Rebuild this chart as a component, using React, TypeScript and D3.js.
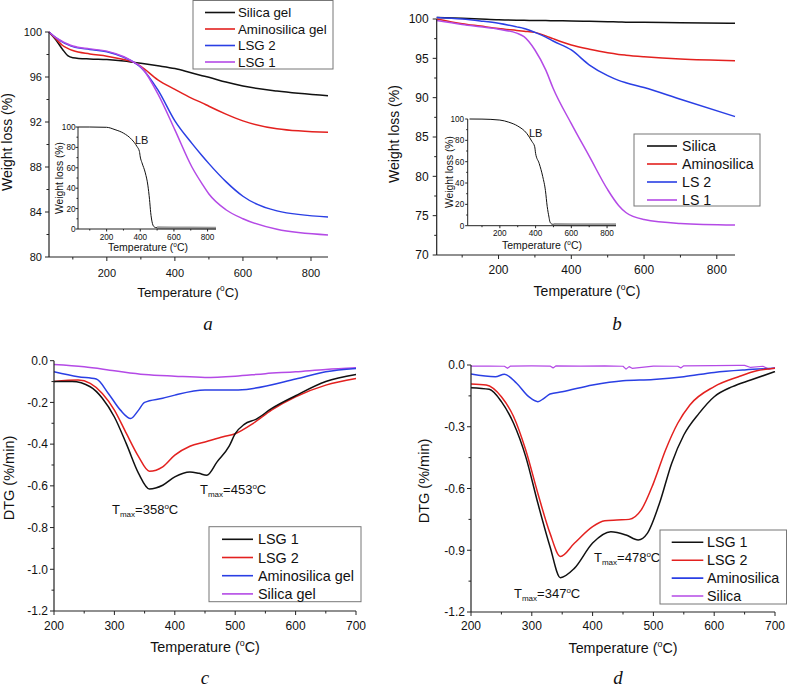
import React from 'react';
import * as d3 from 'd3';

const FONT = '"Liberation Sans", Arial, Helvetica, sans-serif';
const C_BLACK = '#111111';
const C_RED = '#e3211f';
const C_BLUE = '#2a3fe4';
const C_PURPLE = '#b44ae6';
const C_AXIS = '#222222';

// ---------- Panel a (TGA, gels) ----------
const tempA = [30, 50, 70, 85, 100, 150, 200, 250, 280, 300, 350, 400, 450, 480, 500, 550, 600, 700, 850];
const silicaGelA = [100, 99.3, 98.45, 97.9, 97.72, 97.6, 97.55, 97.42, 97.3, 97.22, 97.0, 96.75, 96.35, 96.12, 95.97, 95.55, 95.2, 94.75, 94.34];
const aminoGelA = [100, 99.4, 98.8, 98.55, 98.35, 98.05, 97.85, 97.55, 97.3, 96.95, 95.75, 94.9, 94.1, 93.7, 93.4, 92.7, 92.1, 91.4, 91.08];
const lsg2A = [100, 99.5, 99.1, 98.88, 98.7, 98.45, 98.25, 97.75, 97.3, 96.85, 94.85, 92.1, 90.1, 89.0, 88.3, 86.7, 85.4, 84.1, 83.56];
const lsg1A = [100, 99.5, 99.15, 98.93, 98.75, 98.5, 98.3, 97.8, 97.3, 96.9, 94.5, 91.3, 88.0, 86.5, 85.6, 84.2, 83.4, 82.46, 81.96];

const insetAT = [30, 100, 200, 250, 300, 350, 380, 395, 400, 410, 430, 445, 455, 462, 470, 480, 490, 500];
const insetAV = [100, 100, 99.7, 97.4, 94, 87.6, 81, 76, 70.6, 65, 55, 43, 29, 16, 7, 2.5, 1.5, 1.2];
const tailT = [500, 600, 700, 850];
const tailV = [1.2, 1.0, 0.9, 0.8];

// ---------- Panel b (TGA, silicas) ----------
const tempB = [30, 100, 150, 200, 250, 270, 300, 330, 350, 400, 450, 500, 530, 550, 600, 700, 850];
const silicaB = [100.2, 100.1, 100.0, 99.9, 99.85, 99.85, 99.8, 99.8, 99.78, 99.75, 99.7, 99.65, 99.62, 99.6, 99.58, 99.52, 99.45];
const aminoB = [100, 99.4, 99.1, 98.8, 98.55, 98.45, 98.3, 97.85, 97.5, 96.7, 96.15, 95.7, 95.5, 95.4, 95.2, 94.9, 94.7];
const ls2B = [100.2, 100.0, 99.75, 99.45, 99.0, 98.8, 98.3, 97.7, 97.2, 96.06, 94.15, 92.8, 92.2, 91.9, 91.3, 89.8, 87.6];
const ls1B = [99.8, 99.3, 99.0, 98.7, 98.2, 97.75, 96.06, 93.5, 91.2, 86.7, 82.5, 78.3, 76.3, 75.4, 74.5, 74.0, 73.8];

const insetBT = [30, 100, 200, 250, 300, 350, 380, 395, 400, 420, 440, 455, 465, 475, 480, 490, 500];
const insetBV = [100, 99.9, 99.0, 97, 93.4, 86.6, 78.8, 74, 67.8, 58.4, 46, 33, 18, 8, 3.75, 1.6, 1.2];

// ---------- Panel c (DTG, gels) ----------
const lsg1CT = [200, 230, 260, 280, 300, 320, 340, 358, 380, 400, 425, 440, 453, 470, 490, 500, 515, 535, 560, 600, 650, 700];
const lsg1CV = [-0.10, -0.10, -0.125, -0.18, -0.27, -0.40, -0.54, -0.615, -0.597, -0.557, -0.533, -0.54, -0.549, -0.485, -0.41, -0.35, -0.305, -0.28, -0.23, -0.168, -0.10, -0.066];
const lsg2CT = [200, 240, 260, 280, 300, 320, 340, 358, 380, 400, 425, 450, 480, 500, 530, 560, 600, 650, 700];
const lsg2CV = [-0.10, -0.093, -0.109, -0.157, -0.237, -0.35, -0.46, -0.53, -0.509, -0.453, -0.41, -0.39, -0.365, -0.35, -0.30, -0.237, -0.173, -0.117, -0.085];
const aminoCT = [200, 240, 270, 290, 310, 327, 340, 350, 380, 400, 450, 500, 530, 600, 650, 700];
const aminoCV = [-0.053, -0.077, -0.088, -0.157, -0.237, -0.277, -0.237, -0.2, -0.18, -0.165, -0.141, -0.141, -0.133, -0.088, -0.053, -0.037];
const silicaCT = [200, 250, 300, 350, 400, 450, 500, 550, 600, 650, 700];
const silicaCV = [-0.018, -0.029, -0.048, -0.066, -0.074, -0.08, -0.074, -0.062, -0.053, -0.042, -0.034];

// ---------- Panel d (DTG, silicas) ----------
const lsg1DT = [200, 230, 250, 270, 290, 310, 330, 347, 370, 400, 430, 455, 475, 490, 510, 530, 550, 575, 600, 630, 660, 700];
const lsg1DV = [-0.11, -0.118, -0.178, -0.283, -0.445, -0.672, -0.883, -1.033, -0.988, -0.865, -0.81, -0.826, -0.85, -0.818, -0.672, -0.478, -0.34, -0.235, -0.154, -0.105, -0.073, -0.032];
const lsg2DT = [200, 225, 250, 270, 290, 310, 330, 347, 370, 400, 420, 440, 460, 480, 500, 520, 540, 560, 600, 640, 670, 700];
const lsg2DV = [-0.092, -0.097, -0.154, -0.25, -0.413, -0.624, -0.818, -0.93, -0.866, -0.785, -0.757, -0.753, -0.75, -0.704, -0.575, -0.413, -0.283, -0.194, -0.105, -0.057, -0.028, -0.016];
const aminoDT = [200, 240, 255, 275, 295, 310, 320, 330, 350, 400, 450, 500, 550, 600, 650, 700];
const aminoDV = [-0.044, -0.057, -0.045, -0.089, -0.154, -0.178, -0.162, -0.141, -0.13, -0.097, -0.076, -0.07, -0.057, -0.036, -0.024, -0.016];
const silicaDT = [200, 230, 255, 260, 265, 300, 330, 335, 340, 380, 420, 450, 455, 460, 465, 500, 540, 545, 550, 600, 640, 650, 660, 680, 690, 700];
const silicaDV = [-0.005, -0.005, -0.006, -0.016, -0.005, -0.004, -0.005, -0.014, -0.004, -0.005, -0.004, -0.006, -0.02, -0.008, -0.016, -0.005, -0.006, -0.014, -0.004, -0.003, -0.002, -0.002, -0.012, -0.006, -0.02, -0.012];

// ---------- ticks ----------
const ticksAY = [80, 84, 88, 92, 96, 100];
const ticksAYMinor = [82, 86, 90, 94, 98];
const ticksTGX = [200, 400, 600, 800];
const ticksTGXMinor = [100, 300, 500, 700];
const ticksBY = [70, 75, 80, 85, 90, 95, 100];
const ticksBYMinor = [72.5, 77.5, 82.5, 87.5, 92.5, 97.5];
const ticksInsetY = [0, 20, 40, 60, 80, 100];
const ticksInsetYMinor = [10, 30, 50, 70, 90];
const ticksDTGX = [200, 300, 400, 500, 600, 700];
const ticksDTGXMinor = [250, 350, 450, 550, 650];
const ticksCY = [-1.2, -1.0, -0.8, -0.6, -0.4, -0.2, 0.0];
const ticksCYMinor = [-1.1, -0.9, -0.7, -0.5, -0.3, -0.1];
const ticksDY = [-1.2, -0.9, -0.6, -0.3, 0.0];
const ticksDYMinor = [-1.05, -0.75, -0.45, -0.15];

type Series = { t: number[]; v: number[]; color: string; width?: number; linear?: boolean };

type PlotProps = {
  xDomain: [number, number];
  xRange: [number, number];
  yDomain: [number, number];
  yRange: [number, number];
  xTicks: number[];
  xMinor: number[];
  yTicks: number[];
  yMinor: number[];
  yFmt: (v: number) => string;
  tickFs: number;
  xTickDy: number;
  yTickGap: number;
  series: Series[];
  major?: number;
  minor?: number;
  axisW?: number;
};

function Plot(p: PlotProps) {
  const x = d3.scaleLinear().domain(p.xDomain).range(p.xRange);
  const y = d3.scaleLinear().domain(p.yDomain).range(p.yRange);
  const major = p.major ?? 4;
  const minor = p.minor ?? 2.5;
  const x0 = p.xRange[0];
  const y0 = p.yRange[0];
  return (
    <g>
      {p.series.map((s, i) => {
        const pts = s.t.map((t, j) => [t, s.v[j]] as [number, number]);
        const line = d3
          .line<[number, number]>()
          .x((d) => x(d[0]))
          .y((d) => y(d[1]))
          .curve(s.linear ? d3.curveLinear : d3.curveMonotoneX);
        return (
          <path key={i} d={line(pts) || ''} fill="none" stroke={s.color} strokeWidth={s.width ?? 1.5} strokeLinejoin="round" />
        );
      })}
      <line x1={x0} x2={p.xRange[1]} y1={y0} y2={y0} stroke={C_AXIS} strokeWidth={p.axisW ?? 1.2} />
      <line x1={x0} x2={x0} y1={p.yRange[0]} y2={p.yRange[1]} stroke={C_AXIS} strokeWidth={p.axisW ?? 1.2} />
      {p.xTicks.map((t) => (
        <g key={'xt' + t}>
          <line x1={x(t)} x2={x(t)} y1={y0} y2={y0 + major} stroke={C_AXIS} strokeWidth={1} />
          <text x={x(t)} y={y0 + p.xTickDy} fontSize={p.tickFs} textAnchor="middle" fill="#111">
            {t}
          </text>
        </g>
      ))}
      {p.xMinor.map((t) => (
        <line key={'xm' + t} x1={x(t)} x2={x(t)} y1={y0} y2={y0 + minor} stroke={C_AXIS} strokeWidth={1} />
      ))}
      {p.yTicks.map((t) => (
        <g key={'yt' + t}>
          <line x1={x0 - major} x2={x0} y1={y(t)} y2={y(t)} stroke={C_AXIS} strokeWidth={1} />
          <text x={x0 - p.yTickGap} y={y(t) + p.tickFs * 0.36} fontSize={p.tickFs} textAnchor="end" fill="#111">
            {p.yFmt(t)}
          </text>
        </g>
      ))}
      {p.yMinor.map((t) => (
        <line key={'ym' + t} x1={x0 - minor} x2={x0} y1={y(t)} y2={y(t)} stroke={C_AXIS} strokeWidth={1} />
      ))}
    </g>
  );
}

function TempTitle({ x, y, fs }: { x: number; y: number; fs: number }) {
  return (
    <text x={x} y={y} fontSize={fs} textAnchor="middle" fill="#111">
      Temperature (
      <tspan dy={-fs * 0.42} fontSize={fs * 0.62}>o</tspan>
      <tspan dy={fs * 0.42}>C)</tspan>
    </text>
  );
}

function YTitle({ x, y, fs, text }: { x: number; y: number; fs: number; text: string }) {
  return (
    <text transform={`translate(${x},${y}) rotate(-90)`} fontSize={fs} textAnchor="middle" fill="#111">
      {text}
    </text>
  );
}

function Tmax({ x, y, val }: { x: number; y: number; val: string }) {
  return (
    <text x={x} y={y} fontSize={13} fill="#111">
      T<tspan dy={3} fontSize={8}>max</tspan>
      <tspan dy={-3}>={val}</tspan>
      <tspan dy={-5} fontSize={8}>o</tspan>
      <tspan dy={5}>C</tspan>
    </text>
  );
}

type LegendProps = {
  x: number; y: number; w: number; h: number;
  names: string[]; colors: string[];
  row0: number; step: number; lx1: number; lx2: number; tx: number; fs: number;
};

function Legend(l: LegendProps) {
  return (
    <g>
      <rect x={l.x} y={l.y} width={l.w} height={l.h} fill="#fff" stroke="#777" strokeWidth={1} />
      {l.names.map((n, i) => (
        <g key={n}>
          <line x1={l.lx1} x2={l.lx2} y1={l.row0 + i * l.step} y2={l.row0 + i * l.step} stroke={l.colors[i]} strokeWidth={1.6} />
          <text x={l.tx} y={l.row0 + i * l.step + l.fs * 0.36} fontSize={l.fs} fill="#111">
            {n}
          </text>
        </g>
      ))}
    </g>
  );
}

const fmtInt = (v: number) => String(v);
const fmt1 = (v: number) => (Math.abs(v) < 1e-9 ? '0.0' : v.toFixed(1));
const SERIF = '"Liberation Serif", "DejaVu Serif", serif';

export default function App() {
  return (
    <div style={{ position: 'absolute', left: 0, top: 0 }}>
      <svg width={787} height={690} viewBox="0 0 787 690" style={{ display: 'block', fontFamily: FONT, background: '#fff' }}>
        <rect x={0} y={0} width={787} height={690} fill="#fff" />

        {/* ---------- a ---------- */}
        <Plot
          xDomain={[30, 850]} xRange={[49, 328]} yDomain={[80, 100]} yRange={[257, 32]}
          xTicks={ticksTGX} xMinor={ticksTGXMinor} yTicks={ticksAY} yMinor={ticksAYMinor}
          yFmt={fmtInt} tickFs={11} xTickDy={20} yTickGap={7}
          series={[
            { t: tempA, v: silicaGelA, color: C_BLACK },
            { t: tempA, v: aminoGelA, color: C_RED },
            { t: tempA, v: lsg2A, color: C_BLUE },
            { t: tempA, v: lsg1A, color: C_PURPLE },
          ]}
        />
        <Plot
          xDomain={[30, 850]} xRange={[78, 216]} yDomain={[0, 100]} yRange={[229, 127]}
          xTicks={ticksTGX} xMinor={ticksTGXMinor} yTicks={ticksInsetY} yMinor={ticksInsetYMinor}
          yFmt={fmtInt} tickFs={8.2} xTickDy={10.5} yTickGap={2.5} major={2.5} minor={1.5} axisW={1}
          series={[
            { t: tailT, v: tailV, color: '#9a9a9a', width: 3, linear: true },
            { t: insetAT, v: insetAV, color: C_BLACK, width: 1 },
          ]}
        />
        <text x={135} y={144} fontSize={11} fill="#111">LB</text>
        <YTitle x={63} y={178} fs={10.3} text="Weight loss (%)" />
        <TempTitle x={148} y={251} fs={10.5} />
        <YTitle x={12} y={142} fs={14} text="Weight loss (%)" />
        <TempTitle x={188} y={297} fs={13.3} />
        <Legend x={193} y={0.5} w={140} h={68.5}
          names={['Silica gel', 'Aminosilica gel', 'LSG 2', 'LSG 1']}
          colors={[C_BLACK, C_RED, C_BLUE, C_PURPLE]}
          row0={12.5} step={16.5} lx1={205} lx2={235} tx={238} fs={13.3} />
        <text x={208} y={330} fontSize={19} fontStyle="italic" fontFamily={SERIF} textAnchor="middle" fill="#111">a</text>

        {/* ---------- b ---------- */}
        <Plot
          xDomain={[30, 850]} xRange={[436.7, 735]} yDomain={[70, 100]} yRange={[255, 19]}
          xTicks={ticksTGX} xMinor={ticksTGXMinor} yTicks={ticksBY} yMinor={ticksBYMinor}
          yFmt={fmtInt} tickFs={12} xTickDy={19} yTickGap={8}
          series={[
            { t: tempB, v: silicaB, color: C_BLACK },
            { t: tempB, v: aminoB, color: C_RED },
            { t: tempB, v: ls2B, color: C_BLUE },
            { t: tempB, v: ls1B, color: C_PURPLE },
          ]}
        />
        <Plot
          xDomain={[20, 850]} xRange={[467.7, 616]} yDomain={[0, 100]} yRange={[225.7, 119]}
          xTicks={ticksTGX} xMinor={ticksTGXMinor} yTicks={ticksInsetY} yMinor={ticksInsetYMinor}
          yFmt={fmtInt} tickFs={8.2} xTickDy={10} yTickGap={3.5} major={2.5} minor={1.5} axisW={1}
          series={[
            { t: tailT, v: tailV, color: '#9a9a9a', width: 3, linear: true },
            { t: insetBT, v: insetBV, color: C_BLACK, width: 1 },
          ]}
        />
        <text x={529} y={137} fontSize={11} fill="#111">LB</text>
        <YTitle x={453} y={172} fs={10.3} text="Weight loss (%)" />
        <TempTitle x={542} y={249} fs={10.5} />
        <YTitle x={399} y={134} fs={14} text="Weight loss (%)" />
        <TempTitle x={587} y={296} fs={14} />
        <Legend x={634} y={134} w={126} h={72}
          names={['Silica', 'Aminosilica', 'LS 2', 'LS 1']}
          colors={[C_BLACK, C_RED, C_BLUE, C_PURPLE]}
          row0={146} step={18} lx1={647} lx2={677} tx={682} fs={14.2} />
        <text x={617} y={330} fontSize={19} fontStyle="italic" fontFamily={SERIF} textAnchor="middle" fill="#111">b</text>

        {/* ---------- c ---------- */}
        <Plot
          xDomain={[200, 700]} xRange={[54, 356]} yDomain={[-1.2, 0]} yRange={[611, 360.7]}
          xTicks={ticksDTGX} xMinor={ticksDTGXMinor} yTicks={ticksCY} yMinor={ticksCYMinor}
          yFmt={fmt1} tickFs={12} xTickDy={19} yTickGap={6}
          series={[
            { t: silicaCT, v: silicaCV, color: C_PURPLE },
            { t: aminoCT, v: aminoCV, color: C_BLUE },
            { t: lsg2CT, v: lsg2CV, color: C_RED },
            { t: lsg1CT, v: lsg1CV, color: C_BLACK },
          ]}
        />
        <Tmax x={112} y={514} val="358" />
        <Tmax x={200} y={494} val="453" />
        <YTitle x={14} y={478} fs={14.5} text="DTG (%/min)" />
        <TempTitle x={205} y={652} fs={14.4} />
        <Legend x={209} y={526.7} w={152} h={75}
          names={['LSG 1', 'LSG 2', 'Aminosilica gel', 'Silica gel']}
          colors={[C_BLACK, C_RED, C_BLUE, C_PURPLE]}
          row0={539.3} step={18.2} lx1={222} lx2={253} tx={258} fs={14.4} />
        <text x={205} y={684} fontSize={19} fontStyle="italic" fontFamily={SERIF} textAnchor="middle" fill="#111">c</text>

        {/* ---------- d ---------- */}
        <Plot
          xDomain={[200, 700]} xRange={[471, 775]} yDomain={[-1.2, 0]} yRange={[612, 365]}
          xTicks={ticksDTGX} xMinor={ticksDTGXMinor} yTicks={ticksDY} yMinor={ticksDYMinor}
          yFmt={fmt1} tickFs={12} xTickDy={18} yTickGap={6}
          series={[
            { t: silicaDT, v: silicaDV, color: C_PURPLE, width: 1.2, linear: true },
            { t: aminoDT, v: aminoDV, color: C_BLUE },
            { t: lsg2DT, v: lsg2DV, color: C_RED },
            { t: lsg1DT, v: lsg1DV, color: C_BLACK },
          ]}
        />
        <Tmax x={594} y={562} val="478" />
        <Tmax x={514} y={598} val="347" />
        <YTitle x={429} y={481} fs={14.5} text="DTG (%/min)" />
        <TempTitle x={623} y={653} fs={14.3} />
        <Legend x={660} y={530} w={126.5} h={74}
          names={['LSG 1', 'LSG 2', 'Aminosilica', 'Silica']}
          colors={[C_BLACK, C_RED, C_BLUE, C_PURPLE]}
          row0={542.3} step={17.9} lx1={671.7} lx2={703.3} tx={707} fs={14.3} />
        <text x={618} y={684} fontSize={19} fontStyle="italic" fontFamily={SERIF} textAnchor="middle" fill="#111">d</text>
      </svg>
    </div>
  );
}
